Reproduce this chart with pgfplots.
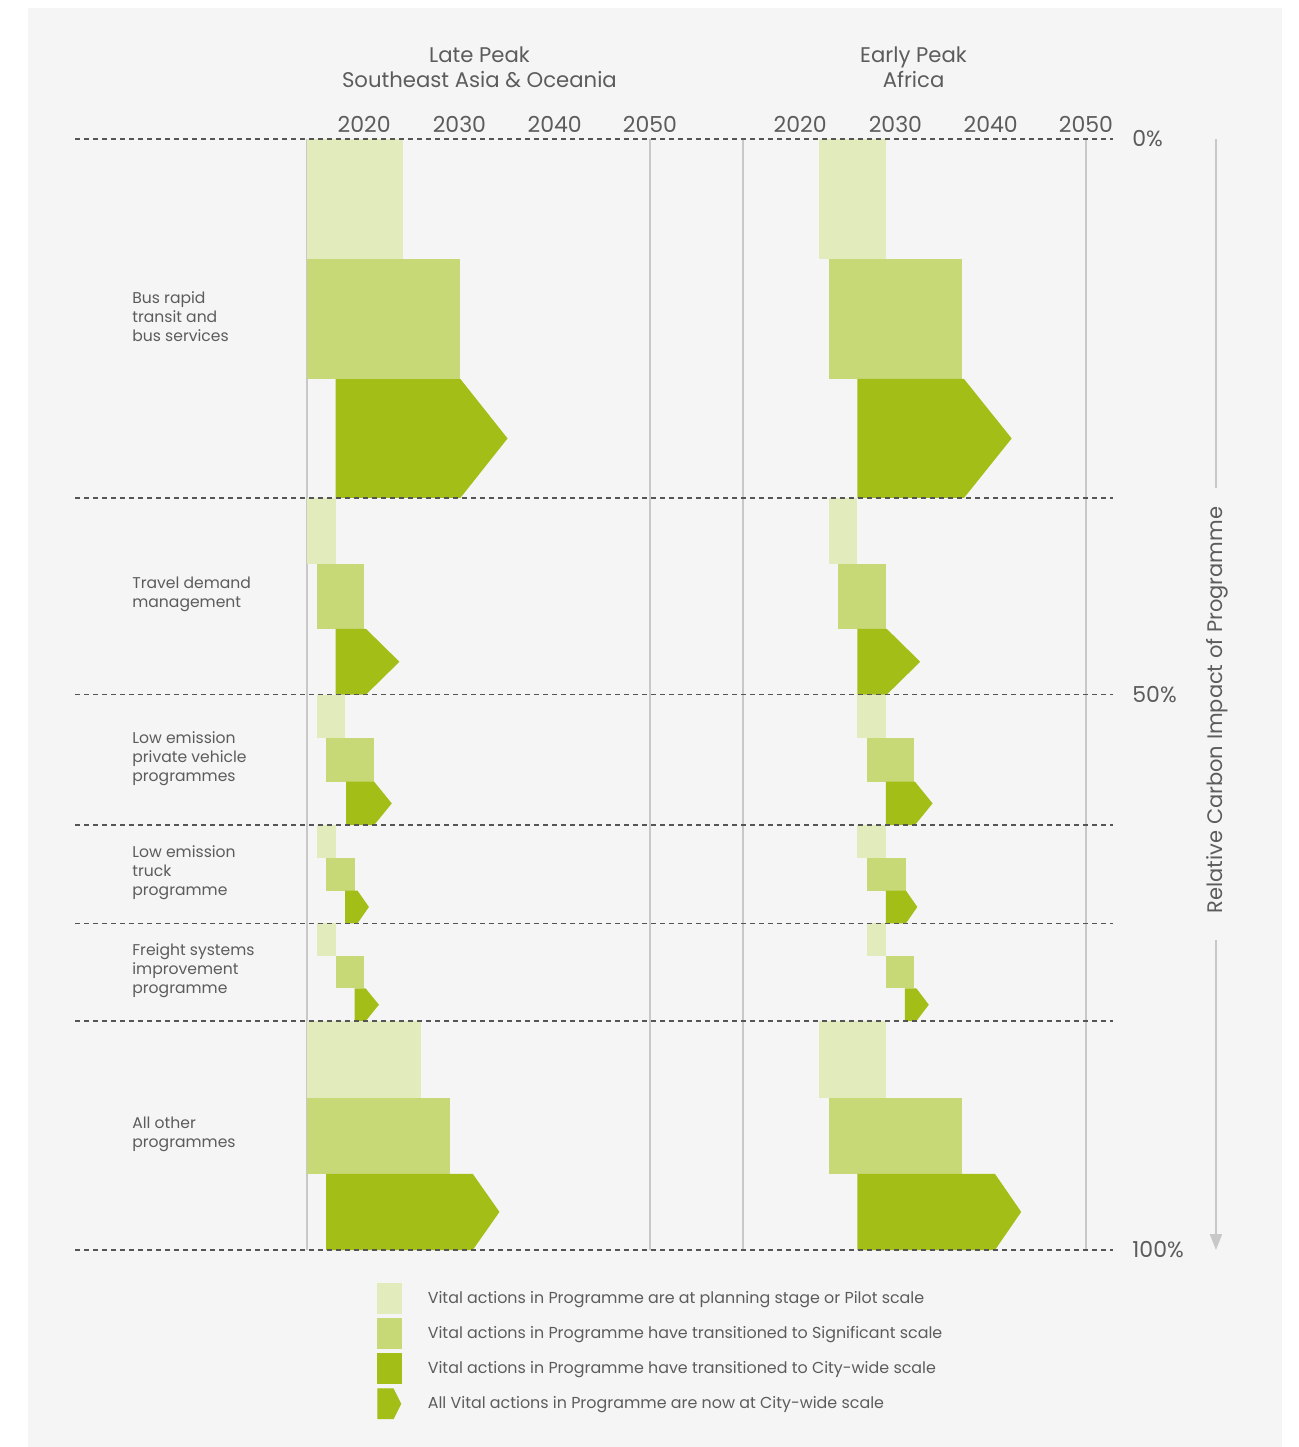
\documentclass[border=0pt]{standalone}
\usepackage{fontspec}
\setmainfont{Poppins}
\usepackage{pgfplots}
\pgfplotsset{compat=1.18}
\usetikzlibrary{arrows.meta}
\definecolor{c1}{HTML}{E2EBBB}
\definecolor{c2}{HTML}{C7D977}
\definecolor{c3}{HTML}{A3BF17}
\definecolor{bg}{HTML}{F5F5F5}
\definecolor{textgray}{HTML}{5C5C5C}
\definecolor{linegray}{HTML}{C8C8C8}
\definecolor{dashgray}{HTML}{555555}
\pgfplotsset{
  panel/.style={
    scale only axis, width=171.5pt, height=555.5pt,
    xmin=2014, xmax=2050, ymin=0, ymax=100, y dir=reverse,
    clip=false,
    xtick={2020,2030,2040,2050},
    xticklabel pos=right,
    ytick=\empty,
    major tick length=0pt,
    tick style={draw=none},
    separate axis lines,
    x axis line style={draw=none},
    y axis line style={draw=linegray, line width=0.75pt},
    /pgf/number format/1000 sep={},
    /pgf/number format/assume math mode=true,
    xticklabel style={font=\fontsize{11}{13}\selectfont, text=textgray, inner sep=0pt, anchor=south, yshift=3pt},
  },
  bar/.style={fill=#1, draw=none},
}
\begin{document}
\begin{tikzpicture}
\fill[white] (0pt,0pt) rectangle (649.5pt,-723.5pt);
\fill[bg] (14pt,-4pt) rectangle (641pt,-723.5pt);
% ---------------- Left panel ----------------
\begin{axis}[panel, at={(153.5pt,-69.5pt)}, anchor=north west,
  legend style={at={(axis cs:2021.35,102.97)}, anchor=north west, draw=none, fill=none,
    inner sep=0pt, row sep=2.1pt, nodes={inner sep=0pt, text=textgray, font=\fontsize{7.95}{10}\selectfont},
    /tikz/every odd column/.append style={column sep=12.8pt}},
  legend cell align=left]
\addlegendimage{legend image code/.code={\fill[c1] (0pt,-7.5pt) rectangle (12pt,7.5pt);}}
\addlegendentry{Vital actions in Programme are at planning stage or Pilot scale}
\addlegendimage{legend image code/.code={\fill[c2] (0pt,-7.5pt) rectangle (12pt,7.5pt);}}
\addlegendentry{Vital actions in Programme have transitioned to Significant scale}
\addlegendimage{legend image code/.code={\fill[c3] (0pt,-7.5pt) rectangle (12pt,7.5pt);}}
\addlegendentry{Vital actions in Programme have transitioned to City-wide scale}
\addlegendimage{legend image code/.code={\fill[c3] (0pt,-7.5pt) -- (7.75pt,-7.5pt) -- (11.5pt,0pt) -- (7.75pt,7.5pt) -- (0pt,7.5pt) -- cycle;}}
\addlegendentry{All Vital actions in Programme are now at City-wide scale}
% Bus rapid transit
\addplot[bar=c1] coordinates {(2014,0) (2024.1,0) (2024.1,10.8) (2014,10.8)} --cycle;
\addplot[bar=c2] coordinates {(2014,10.8) (2030.05,10.8) (2030.05,21.6) (2014,21.6)} --cycle;
\addplot[bar=c3] coordinates {(2017,21.6) (2030.1,21.6) (2035.05,26.95) (2030.1,32.3) (2017,32.3)} --cycle;
% Travel demand management
\addplot[bar=c1] coordinates {(2014,32.3) (2017,32.3) (2017,38.25) (2014,38.25)} --cycle;
\addplot[bar=c2] coordinates {(2015,38.25) (2020,38.25) (2020,44.1) (2015,44.1)} --cycle;
\addplot[bar=c3] coordinates {(2017,44.1) (2020.2,44.1) (2023.7,47.05) (2020.2,50) (2017,50)} --cycle;
% Low emission private vehicle
\addplot[bar=c1] coordinates {(2015,50) (2018,50) (2018,53.9) (2015,53.9)} --cycle;
\addplot[bar=c2] coordinates {(2016,53.9) (2021,53.9) (2021,57.85) (2016,57.85)} --cycle;
\addplot[bar=c3] coordinates {(2018.1,57.85) (2021.05,57.85) (2022.9,59.8) (2021.05,61.75) (2018.1,61.75)} --cycle;
% Low emission truck
\addplot[bar=c1] coordinates {(2015,61.75) (2017,61.75) (2017,64.7) (2015,64.7)} --cycle;
\addplot[bar=c2] coordinates {(2016,64.7) (2019,64.7) (2019,67.65) (2016,67.65)} --cycle;
\addplot[bar=c3] coordinates {(2018,67.65) (2019.3,67.65) (2020.5,69.12) (2019.3,70.6) (2018,70.6)} --cycle;
% Freight systems
\addplot[bar=c1] coordinates {(2015,70.6) (2017,70.6) (2017,73.5) (2015,73.5)} --cycle;
\addplot[bar=c2] coordinates {(2017,73.5) (2020,73.5) (2020,76.45) (2017,76.45)} --cycle;
\addplot[bar=c3] coordinates {(2019,76.45) (2020.15,76.45) (2021.55,77.92) (2020.15,79.4) (2019,79.4)} --cycle;
% All other programmes
\addplot[bar=c1] coordinates {(2014,79.4) (2026,79.4) (2026,86.3) (2014,86.3)} --cycle;
\addplot[bar=c2] coordinates {(2014,86.3) (2029,86.3) (2029,93.15) (2014,93.15)} --cycle;
\addplot[bar=c3] coordinates {(2016,93.15) (2031.4,93.15) (2034.2,96.57) (2031.4,100) (2016,100)} --cycle;
% title
\node[align=center, text=textgray, font=\fontsize{10.6}{12.5}\selectfont] at (axis cs:2032.1,-6.44) {Late Peak\\Southeast Asia \& Oceania};
% category labels
\begin{scope}[every node/.style={anchor=west, align=left, text=textgray, inner sep=0pt, font=\fontsize{7.8}{9.5}\selectfont}]
\node at (axis cs:1995.63,16.0) {Bus rapid\\transit and\\bus services};
\node at (axis cs:1995.63,41.0) {Travel demand\\management};
\node at (axis cs:1995.63,55.75) {Low emission\\private vehicle\\programmes};
\node at (axis cs:1995.63,66.05) {Low emission\\truck\\programme};
\node at (axis cs:1995.63,74.85) {Freight systems\\improvement\\programme};
\node at (axis cs:1995.63,89.55) {All other\\programmes};
\end{scope}
\end{axis}
% ---------------- Right panel ----------------
\begin{axis}[panel, at={(371.5pt,-69.5pt)}, anchor=north west]
% Bus rapid transit
\addplot[bar=c1] coordinates {(2022,0) (2029,0) (2029,10.8) (2022,10.8)} --cycle;
\addplot[bar=c2] coordinates {(2023,10.8) (2037,10.8) (2037,21.6) (2023,21.6)} --cycle;
\addplot[bar=c3] coordinates {(2026,21.6) (2037.2,21.6) (2042.2,26.95) (2037.2,32.3) (2026,32.3)} --cycle;
% Travel demand management
\addplot[bar=c1] coordinates {(2023,32.3) (2026,32.3) (2026,38.25) (2023,38.25)} --cycle;
\addplot[bar=c2] coordinates {(2024,38.25) (2029,38.25) (2029,44.1) (2024,44.1)} --cycle;
\addplot[bar=c3] coordinates {(2026,44.1) (2029.1,44.1) (2032.6,47.05) (2029.1,50) (2026,50)} --cycle;
% Low emission private vehicle
\addplot[bar=c1] coordinates {(2026,50) (2029,50) (2029,53.9) (2026,53.9)} --cycle;
\addplot[bar=c2] coordinates {(2027,53.9) (2032,53.9) (2032,57.85) (2027,57.85)} --cycle;
\addplot[bar=c3] coordinates {(2029,57.85) (2032.05,57.85) (2033.9,59.8) (2032.05,61.75) (2029,61.75)} --cycle;
% Low emission truck
\addplot[bar=c1] coordinates {(2026,61.75) (2029,61.75) (2029,64.7) (2026,64.7)} --cycle;
\addplot[bar=c2] coordinates {(2027,64.7) (2031.1,64.7) (2031.1,67.65) (2027,67.65)} --cycle;
\addplot[bar=c3] coordinates {(2029,67.65) (2031.1,67.65) (2032.3,69.12) (2031.1,70.6) (2029,70.6)} --cycle;
% Freight systems
\addplot[bar=c1] coordinates {(2027,70.6) (2029,70.6) (2029,73.5) (2027,73.5)} --cycle;
\addplot[bar=c2] coordinates {(2029,73.5) (2032,73.5) (2032,76.45) (2029,76.45)} --cycle;
\addplot[bar=c3] coordinates {(2031,76.45) (2032.2,76.45) (2033.5,77.92) (2032.2,79.4) (2031,79.4)} --cycle;
% All other programmes
\addplot[bar=c1] coordinates {(2022,79.4) (2029,79.4) (2029,86.3) (2022,86.3)} --cycle;
\addplot[bar=c2] coordinates {(2023,86.3) (2037,86.3) (2037,93.15) (2023,93.15)} --cycle;
\addplot[bar=c3] coordinates {(2026,93.15) (2040.45,93.15) (2043.2,96.57) (2040.45,100) (2026,100)} --cycle;
% title
\node[align=center, text=textgray, font=\fontsize{10.6}{12.5}\selectfont] at (axis cs:2031.9,-6.44) {Early Peak\\Africa};
% dashed separators across the whole chart
\pgfplotsinvokeforeach{0,32.3,50,61.75,70.6,79.4,100}{
  \draw[dashgray, line width=0.8pt, dash pattern=on 2.5pt off 2pt] (axis cs:1943.9,#1) -- (axis cs:2052.83,#1);
}
% percent labels
\begin{scope}[every node/.style={anchor=west, text=textgray, inner sep=0pt, font=\fontsize{11}{13}\selectfont}]
\node at (axis cs:2054.83,0) {0\%};
\node at (axis cs:2054.83,50) {50\%};
\node at (axis cs:2054.83,100) {100\%};
\end{scope}
% vertical arrow and label
\draw[linegray, line width=1pt] (axis cs:2063.64,0) -- (axis cs:2063.64,31.4);
\draw[linegray, line width=1pt, -{Triangle[width=6pt,length=8pt]}] (axis cs:2063.64,72.1) -- (axis cs:2063.64,100);
\node[rotate=90, text=textgray, font=\fontsize{10.5}{13}\selectfont] at (axis cs:2063.8,51.4) {Relative Carbon Impact of Programme};
\end{axis}
\end{tikzpicture}
\end{document}
